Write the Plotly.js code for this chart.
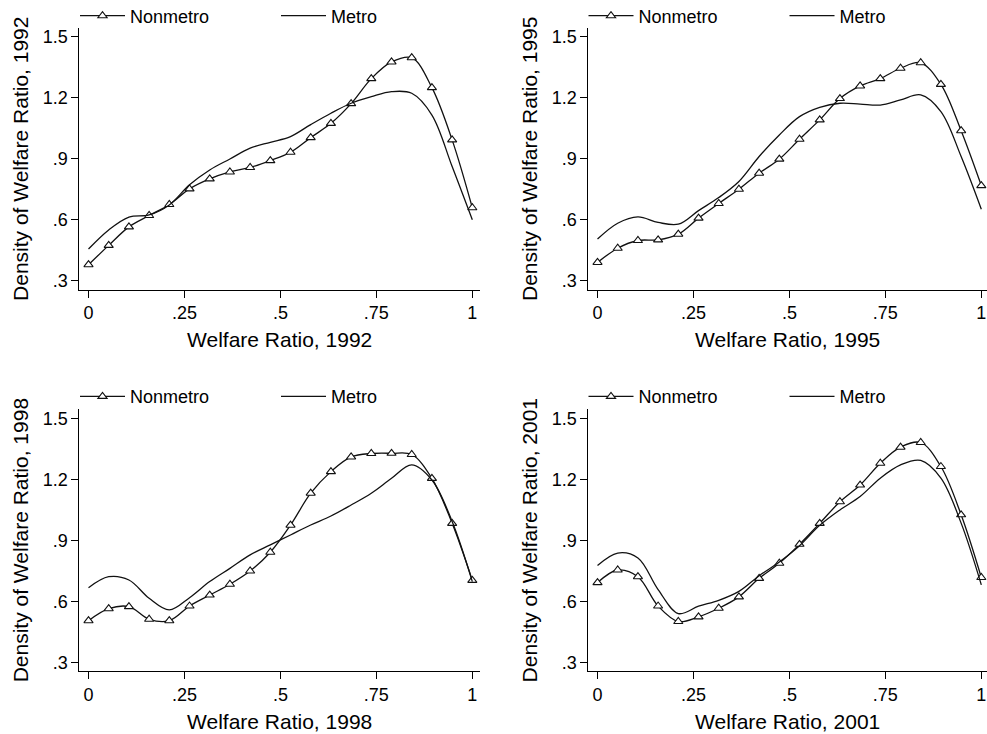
<!DOCTYPE html>
<html><head><meta charset="utf-8">
<script src="https://cdn.plot.ly/plotly-3.0.1.min.js"></script>
<style>html,body{margin:0;padding:0;background:#fff;} #chart{width:987px;height:734px;}</style>
</head><body><div id="chart"></div>
<script>
// Welfare ratio grid (20 evaluation points)
const welfareRatio = [0, 0.0526, 0.1053, 0.1579, 0.2105, 0.2632, 0.3158, 0.3684, 0.4211, 0.4737,
                      0.5263, 0.5789, 0.6316, 0.6842, 0.7368, 0.7895, 0.8421, 0.8947, 0.9474, 1];
const years = ['1992', '1995', '1998', '2001'];
const seriesNames = ['Nonmetro', 'Metro'];

const nonmetro1992 = [0.379, 0.474, 0.565, 0.621, 0.675, 0.752, 0.801, 0.835, 0.857, 0.891,
                      0.932, 1.004, 1.074, 1.171, 1.294, 1.376, 1.397, 1.250, 0.993, 0.659];
const metro1992    = [0.456, 0.550, 0.613, 0.624, 0.673, 0.772, 0.845, 0.899, 0.952, 0.981,
                      1.009, 1.068, 1.124, 1.173, 1.205, 1.230, 1.222, 1.115, 0.862, 0.600];

const nonmetro1995 = [0.390, 0.460, 0.498, 0.501, 0.529, 0.608, 0.680, 0.750, 0.829, 0.898,
                      0.996, 1.091, 1.196, 1.258, 1.294, 1.345, 1.372, 1.266, 1.038, 0.768];
const metro1995    = [0.505, 0.583, 0.614, 0.587, 0.578, 0.645, 0.709, 0.788, 0.911, 1.017,
                      1.107, 1.153, 1.173, 1.169, 1.164, 1.189, 1.214, 1.132, 0.911, 0.652];

const nonmetro1998 = [0.506, 0.565, 0.575, 0.513, 0.506, 0.578, 0.632, 0.685, 0.750, 0.842,
                      0.975, 1.132, 1.238, 1.310, 1.327, 1.328, 1.322, 1.205, 0.984, 0.704];
const metro1998    = [0.668, 0.722, 0.706, 0.616, 0.559, 0.619, 0.698, 0.763, 0.829, 0.878,
                      0.927, 0.976, 1.020, 1.074, 1.132, 1.205, 1.271, 1.197, 0.993, 0.698];

const nonmetro2001 = [0.693, 0.755, 0.722, 0.578, 0.502, 0.525, 0.567, 0.623, 0.714, 0.788,
                      0.881, 0.984, 1.090, 1.172, 1.279, 1.358, 1.381, 1.263, 1.026, 0.718];
const metro2001    = [0.777, 0.838, 0.814, 0.659, 0.541, 0.577, 0.606, 0.650, 0.727, 0.794,
                      0.874, 0.974, 1.050, 1.116, 1.206, 1.271, 1.293, 1.206, 0.985, 0.682];

const xTickVals = [0, 0.25, 0.5, 0.75, 1];
const xTickText = ['0', '.25', '.5', '.75', '1'];
const yTickVals = [0.3, 0.6, 0.9, 1.2, 1.5];
const yTickText = ['.3', '.6', '.9', '1.2', '1.5'];

const nonmetroSeries = [nonmetro1992, nonmetro1995, nonmetro1998, nonmetro2001];
const metroSeries = [metro1992, metro1995, metro1998, metro2001];

// ---- layout geometry (pixels) ----
const W = 987, H = 734;
const FONT = 'Liberation Sans, Arial, Helvetica, sans-serif';
const panels = [
  {x0: 79.3, x1: 480, yTop: 28, yBot: 289.5, xr: [-0.024, 1.02], yr: [0.257, 1.543], legY: 16, legX: 75},
  {x0: 588.3, x1: 987, yTop: 28, yBot: 289.5, xr: [-0.024, 1.0148], yr: [0.257, 1.543], legY: 16, legX: 583.5},
  {x0: 79.3, x1: 480, yTop: 409.3, yBot: 671, xr: [-0.024, 1.02], yr: [0.259, 1.544], legY: 396.7, legX: 75},
  {x0: 588.3, x1: 987, yTop: 409.3, yBot: 671, xr: [-0.024, 1.0148], yr: [0.259, 1.544], legY: 396.7, legX: 583.5}
];

const traces = [];
const layout = {
  width: W, height: H,
  margin: {l: 0, r: 0, t: 0, b: 0, pad: 0, autoexpand: false},
  paper_bgcolor: '#ffffff', plot_bgcolor: '#ffffff',
  font: {family: FONT, color: '#000000', size: 18},
  showlegend: true
};

panels.forEach((p, k) => {
  const n = k + 1;
  const xa = 'x' + (n === 1 ? '' : n), ya = 'y' + (n === 1 ? '' : n);
  const legName = n === 1 ? 'legend' : 'legend' + n;
  traces.push({
    type: 'scatter', mode: 'lines+markers', name: seriesNames[0],
    x: welfareRatio, y: nonmetroSeries[k], xaxis: xa, yaxis: ya, legend: legName,
    line: {color: '#111111', width: 1.3, shape: 'spline', smoothing: 1},
    marker: {symbol: 'triangle-up', size: 8, color: '#ffffff', line: {color: '#111111', width: 1.1}},
    hoverinfo: 'skip'
  });
  traces.push({
    type: 'scatter', mode: 'lines', name: seriesNames[1],
    x: welfareRatio, y: metroSeries[k], xaxis: xa, yaxis: ya, legend: legName,
    line: {color: '#111111', width: 1.3, shape: 'spline', smoothing: 1},
    hoverinfo: 'skip'
  });
  const axCommon = {
    showline: true, linecolor: '#000000', linewidth: 1,
    ticks: 'outside', ticklen: 7, tickwidth: 1, tickcolor: '#000000',
    showgrid: false, zeroline: false, fixedrange: true, automargin: false,
    tickfont: {family: FONT, size: 18, color: '#000000'}
  };
  layout['xaxis' + (n === 1 ? '' : n)] = Object.assign({}, axCommon, {
    domain: [p.x0 / W, p.x1 / W], range: p.xr, anchor: ya,
    tickmode: 'array', tickvals: xTickVals, ticktext: xTickText,
    title: {text: 'Welfare Ratio, ' + years[k], font: {family: FONT, size: 21, color: '#000000'}, standoff: 10}
  });
  layout['yaxis' + (n === 1 ? '' : n)] = Object.assign({}, axCommon, {
    domain: [1 - p.yBot / H, 1 - p.yTop / H], range: p.yr, anchor: xa,
    tickmode: 'array', tickvals: yTickVals, ticktext: yTickText,
    title: {text: 'Density of Welfare Ratio, ' + years[k], font: {family: FONT, size: 21, color: '#000000'}, standoff: 8}
  });
  layout[legName] = {
    orientation: 'h', x: p.legX / W, y: 1 - p.legY / H, xanchor: 'left', yanchor: 'middle',
    bgcolor: 'rgba(0,0,0,0)', borderwidth: 0,
    font: {family: FONT, size: 18, color: '#000000'},
    itemwidth: 45, entrywidth: 141, entrywidthmode: 'pixels',
    tracegroupgap: 0, itemclick: false, itemdoubleclick: false
  };
});

Plotly.newPlot('chart', traces, layout, {displayModeBar: false, staticPlot: true});
</script>
</body></html>
